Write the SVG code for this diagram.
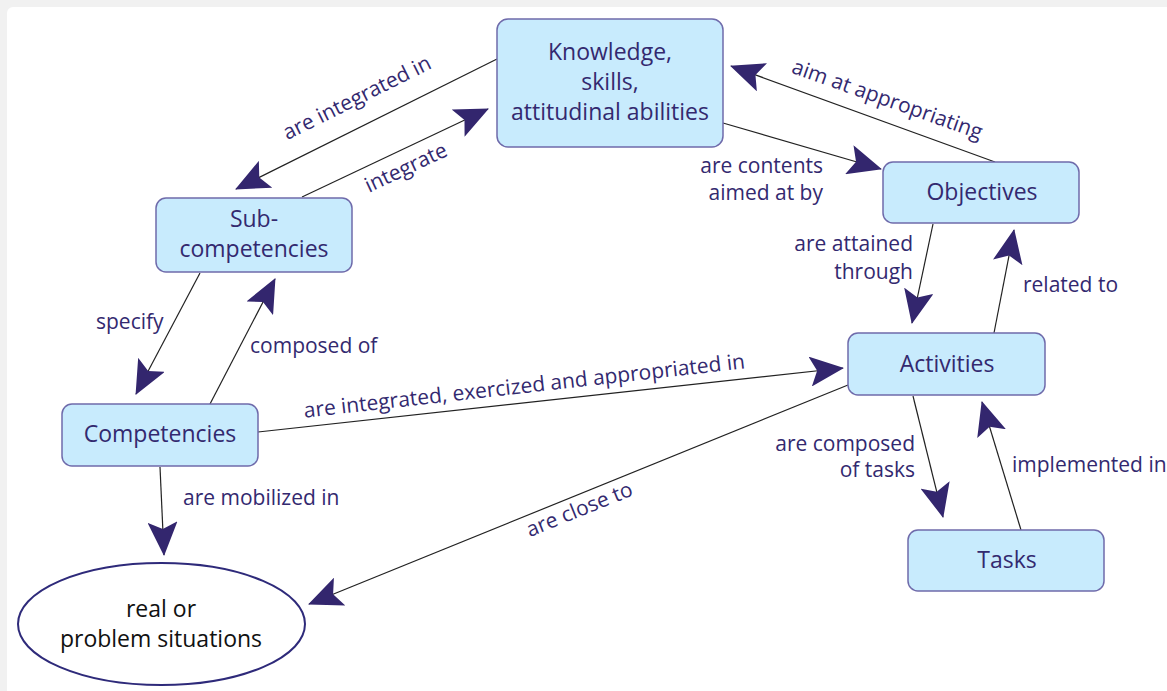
<svg xmlns="http://www.w3.org/2000/svg" width="1167" height="691" viewBox="0 0 1167 691">
<style>
.node rect{fill:#c8ebfd;stroke:#6f6bab;stroke-width:1.5}
.nt{font-family:"Open Sans","Liberation Sans",sans-serif;font-size:23px;fill:#33296f;text-anchor:middle}
.lb{font-family:"Open Sans","Liberation Sans",sans-serif;font-size:21px;fill:#33296f}
.conn line{stroke:#222;stroke-width:1.2;fill:none;marker-end:url(#ah)}
</style>
<defs>
<marker id="ah" viewBox="0 0 34 30" refX="33" refY="15" markerWidth="34" markerHeight="30" markerUnits="userSpaceOnUse" orient="auto">
<path d="M0,0 L34,15 L0,30 L7,15 Z" fill="#33266e"/>
</marker>
</defs>
<rect x="0" y="0" width="1167" height="691" fill="#f1f1f1"/>
<rect x="7" y="7" width="1170" height="700" rx="6" fill="#ffffff"/>

<g class="conn">
<line x1="497" y1="59" x2="236" y2="189"/>
<line x1="302" y1="197" x2="488" y2="109"/>
<line x1="723" y1="123" x2="881" y2="169"/>
<line x1="995" y1="162" x2="731" y2="66"/>
<line x1="933" y1="224" x2="912" y2="323"/>
<line x1="994" y1="333" x2="1014" y2="230"/>
<line x1="913" y1="396" x2="943" y2="517"/>
<line x1="1021" y1="530" x2="982" y2="402"/>
<line x1="258" y1="432" x2="843" y2="368"/>
<line x1="848" y1="385" x2="309" y2="604"/>
<line x1="160" y1="467" x2="164" y2="555"/>
<line x1="200" y1="273" x2="136" y2="394"/>
<line x1="210" y1="404" x2="275" y2="279"/>
</g>

<g id="labels">
<text class="lb" text-anchor="middle" transform="translate(360,104) rotate(-26.5)">are integrated in</text>
<text class="lb" text-anchor="middle" transform="translate(409,174) rotate(-25.3)">integrate</text>
<text class="lb" text-anchor="middle" transform="translate(885,106) rotate(19.5)">aim at appropriating</text>
<text class="lb" text-anchor="end" x="823" y="173">are contents</text>
<text class="lb" text-anchor="end" x="823" y="200">aimed at by</text>
<text class="lb" text-anchor="end" x="913" y="251">are attained</text>
<text class="lb" text-anchor="end" x="913" y="279">through</text>
<text class="lb" x="1023" y="292">related to</text>
<text class="lb" text-anchor="end" x="915" y="451">are composed</text>
<text class="lb" text-anchor="end" x="915" y="477">of tasks</text>
<text class="lb" x="1012" y="472">implemented in</text>
<text class="lb" x="96" y="329">specify</text>
<text class="lb" x="250" y="353">composed of</text>
<text class="lb" x="183" y="505">are mobilized in</text>
<text class="lb" text-anchor="middle" transform="translate(525,393) rotate(-6.4)">are integrated, exercized and appropriated in</text>
<text class="lb" text-anchor="middle" transform="translate(582,516) rotate(-22)">are close to</text>
</g>

<g id="knowledge" class="node">
<rect x="497" y="19" width="226" height="128" rx="11"/>
<text class="nt" x="610" y="60">Knowledge,</text>
<text class="nt" x="610" y="90">skills,</text>
<text class="nt" x="610" y="120">attitudinal abilities</text>
</g>
<g id="subcompetencies" class="node">
<rect x="156" y="198" width="196" height="74" rx="10"/>
<text class="nt" x="254" y="227">Sub-</text>
<text class="nt" x="254" y="257">competencies</text>
</g>
<g id="competencies" class="node">
<rect x="62" y="404" width="196" height="62" rx="10"/>
<text class="nt" x="160" y="442">Competencies</text>
</g>
<g id="objectives" class="node">
<rect x="883" y="162" width="196" height="61" rx="10"/>
<text class="nt" x="982" y="200">Objectives</text>
</g>
<g id="activities" class="node">
<rect x="848" y="333" width="197" height="62" rx="10"/>
<text class="nt" x="947" y="372">Activities</text>
</g>
<g id="tasks" class="node">
<rect x="908" y="530" width="196" height="61" rx="10"/>
<text class="nt" x="1007" y="568">Tasks</text>
</g>
<g id="situations">
<ellipse cx="161.5" cy="624" rx="143.5" ry="61" fill="#ffffff" stroke="#2e2a7a" stroke-width="2"/>
<text x="161" y="617" font-family="Open Sans, Liberation Sans, sans-serif" font-size="23" fill="#111" text-anchor="middle">real or</text>
<text x="161" y="647" font-family="Open Sans, Liberation Sans, sans-serif" font-size="23" fill="#111" text-anchor="middle">problem situations</text>
</g>
</svg>
